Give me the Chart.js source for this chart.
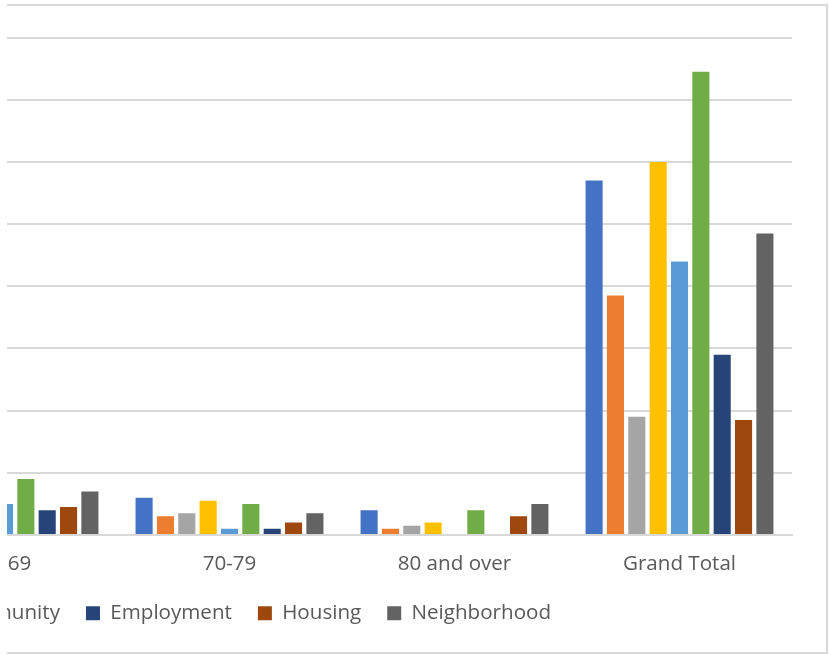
<!DOCTYPE html>
<html>
<head>
<meta charset="utf-8">
<script src="https://cdn.jsdelivr.net/npm/chart.js@4.4.1/dist/chart.umd.min.js"></script>
<style>
  body { margin: 0; background: #fff; width: 829px; height: 655px; overflow: hidden; position: relative; }
  #frame {
    position: absolute; left: 7px; top: 4px; width: 819px; height: 646px;
    border-top: 2px solid #d9d9d9; border-right: 2px solid #d9d9d9; border-bottom: 2px solid #d9d9d9;
    overflow: hidden; background: #fff;
  }
  #chart { position: absolute; top: 0; }
</style>
</head>
<body>
<div id="frame"><canvas id="chart"></canvas></div>
<script>
// categories on the x axis (only the right part of the original chart is visible)
const categories = ["60-69", "70-79", "80 and over", "Grand Total"];

// series names, in legend order (first five are cut off in the original)
const seriesNames = ["Access", "Affordability", "Amenities", "Business", "Childcare",
  "Community", "Employment", "Housing", "Neighborhood"];

const seriesColors = ["#4472C4", "#ED7D31", "#A5A5A5", "#FFC000", "#5B9BD5",
  "#70AD47", "#264478", "#9E480E", "#636363"];

// values per series, one per category (null = hidden off the left edge)
const access        = [null, 12, 8, 114];
const affordability = [null, 6, 2, 77];
const amenities     = [null, 7, 3, 38];
const business      = [null, 11, 4, 120];
const childcare     = [10, 2, 0, 88];
const community     = [18, 10, 8, 149];
const employment    = [8, 2, 0, 58];
const housing       = [9, 4, 6, 37];
const neighborhood  = [14, 7, 10, 97];

const seriesValues = [access, affordability, amenities, business, childcare,
  community, employment, housing, neighborhood];

const yMax = 160;
const yStep = 20;

// the original chart is cropped on the left; keep a wide hidden y-axis area
// so the plot and the legend land where they did
const yAxisWidth = 912;
const plotWidth = 900;
const padRight = 35;
const canvasWidth = yAxisWidth + plotWidth + padRight;
const canvasHeight = 646;

const canvas = document.getElementById("chart");
canvas.width = canvasWidth;
canvas.height = canvasHeight;
canvas.style.width = canvasWidth + "px";
canvas.style.height = canvasHeight + "px";
canvas.style.left = -(115 + yAxisWidth) + "px";

const textColor = "#595959";
const lineColor = "#d9d9d9";
const font = { family: "'Open Sans', sans-serif", size: 20.6 };

const chartData = {
  labels: categories,
  datasets: seriesNames.map((name, i) => ({
    label: name,
    data: seriesValues[i],
    backgroundColor: seriesColors[i],
    borderWidth: 0,
    barPercentage: 0.8,
    categoryPercentage: 0.854
  }))
};

const config = {
  type: "bar",
  data: chartData,
  options: {
    responsive: false,
    animation: false,
    devicePixelRatio: 1,
    layout: {
      padding: { top: 31.5, right: padRight, bottom: 18.4, left: 0 }
    },
    plugins: {
      tooltip: { enabled: false },
      legend: {
        position: "bottom",
        labels: {
          color: textColor,
          font: font,
          boxWidth: 14,
          boxHeight: 14,
          padding: 26
        }
      }
    },
    scales: {
      x: {
        grid: { display: false, drawTicks: false },
        border: { display: true, color: lineColor, width: 2 },
        ticks: { color: textColor, font: font, padding: 16.5, maxRotation: 0, autoSkip: false },
        afterFit: scale => { scale.height = 42; }
      },
      y: {
        min: 0,
        max: yMax,
        grid: { color: lineColor, lineWidth: 2, drawTicks: false },
        border: { display: false },
        ticks: { display: false, stepSize: yStep },
        afterFit: scale => { scale.width = yAxisWidth; }
      }
    }
  }
};

const barChart = new Chart(canvas, config);
</script>
</body>
</html>
